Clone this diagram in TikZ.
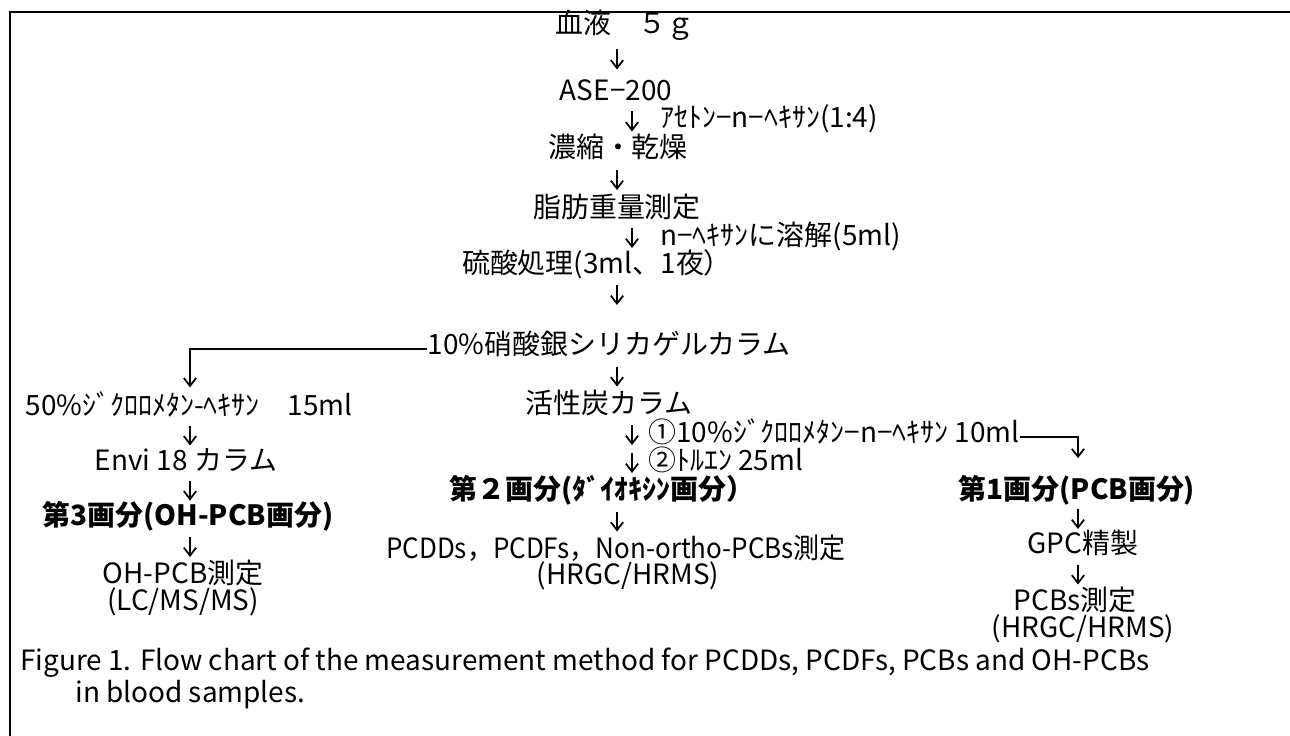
\documentclass[tikz,border=0pt]{standalone}
\usepackage{fontspec}
\setmainfont{Noto Sans CJK JP}
\newfontfamily\narrowfont[FakeStretch=0.93]{Noto Sans CJK JP}
\usetikzlibrary{arrows.meta,calc}
\begin{document}
\begin{tikzpicture}[x=0.02cm,y=-0.02cm,
  t/.style={inner sep=0pt,text height=0.72em,text depth=0.12em,font=\fontsize{15.9}{19}\selectfont},
  tb/.style={t,font=\fontsize{15.9}{19}\selectfont\bfseries},
  tn/.style={t,font=\fontsize{15.9}{19}\selectfont\narrowfont},
  lab/.style={t,anchor=west},
  darr/.style={line width=1pt,-{Straight Barb[length=4.5pt,width=7pt,line width=1pt]}},
  frame/.style={line width=1.1pt}]
\useasboundingbox (0,0) rectangle (1290,736);
\coordinate (tl) at (10,12);
\coordinate (tr) at (1290,12);
\coordinate (bl) at (10,736);
\draw[frame] (tr) -- (tl) -- (bl);
% column coordinates
\coordinate (ax) at (617,0);
\coordinate (axl) at (632,0);
\coordinate (bx) at (1078,0);
\coordinate (cx) at (190,0);
% main column
\node[t] (blood) at (625,28) {血液　５ｇ};
\node[t] (ase) at (616,95) {ASE−200};
\node[lab] (l0) at (660,122) {ｱｾﾄﾝ−n−ﾍｷｻﾝ(1:4)};
\node[t] (conc) at (618,152) {濃縮・乾燥};
\node[t] (fat) at (617,212) {脂肪重量測定};
\node[lab] (lh) at (660,240) {n−ﾍｷｻﾝに溶解(5ml)};
\node[t] (acid) at (597,268) {硫酸処理(3ml、1夜）};
\coordinate (acidarr) at (617,297);
\node[t] (silica) at (609,349) {10\%硝酸銀シリカゲルカラム};
\node[t] (act) at (609,408) {活性炭カラム};
\node[lab] (l1) at (648,437) {①10\%ｼﾞｸﾛﾛﾒﾀﾝ−n−ﾍｷｻﾝ 10ml};
\node[lab] (l2) at (648,465) {②ﾄﾙｴﾝ 25ml};
\node[tb] (frac2) at (602,494) {第２画分(ﾀﾞｲｵｷｼﾝ画分）};
\node[tn] (pcdd) at (616,553) {PCDDs，PCDFs，Non-ortho-PCBs測定};
\node[t] (hr1) at (628,579) {(HRGC/HRMS)};
% right column
\node[tb] (frac1) at (1077,494) {第1画分(PCB画分)};
\node[t] (gpc) at (1083,548) {GPC精製};
\node[t] (pcbs) at (1075,605) {PCBs測定};
\node[t] (hr2) at (1083,632) {(HRGC/HRMS)};
% left column
\node[t] (dcm) at (189,410) {50\%ｼﾞｸﾛﾛﾒﾀﾝ-ﾍｷｻﾝ　15ml};
\node[t] (envi) at (186,465) {Envi 18 カラム};
\node[tb] (frac3) at (188,520) {第3画分(OH-PCB画分)};
\node[t] (ohpcb) at (183,578) {OH-PCB測定};
\node[t] (lcms) at (183,605) {(LC/MS/MS)};
% caption
\node[lab] (cap1) at (20,665) {Figure 1. Flow chart of the measurement method for PCDDs, PCDFs, PCBs and OH-PCBs};
\node[lab] (cap2) at (75,697) {in blood samples.};
% down arrows
\newcommand{\dn}[3]{\draw[darr] ($(#1.center -| #3)!0.5!(#2.center -| #3)$) +(0,-12) -- +(0,8);}
\dn{blood}{ase}{ax}
\dn{ase}{conc}{axl}
\dn{conc}{fat}{ax}
\dn{fat}{acid}{axl}
\draw[darr] (acidarr) +(0,-12) -- +(0,8);
\dn{silica}{act}{ax}
\draw[darr] (l1.center -| axl) +(0,-12) -- +(0,8);
\draw[darr] (l2.center -| axl) +(0,-12) -- +(0,8);
\dn{frac2}{pcdd}{ax}
\dn{frac1}{gpc}{bx}
\dn{gpc}{pcbs}{bx}
\dn{dcm}{envi}{cx}
\dn{envi}{frac3}{cx}
\dn{frac3}{ohpcb}{cx}
% branches
\draw[darr,shorten >=8.5pt] (silica.west) -| (dcm.north -| cx);
\draw[darr,shorten >=16pt] (l1.east) -| (frac1.north -| bx);
\end{tikzpicture}
\end{document}
